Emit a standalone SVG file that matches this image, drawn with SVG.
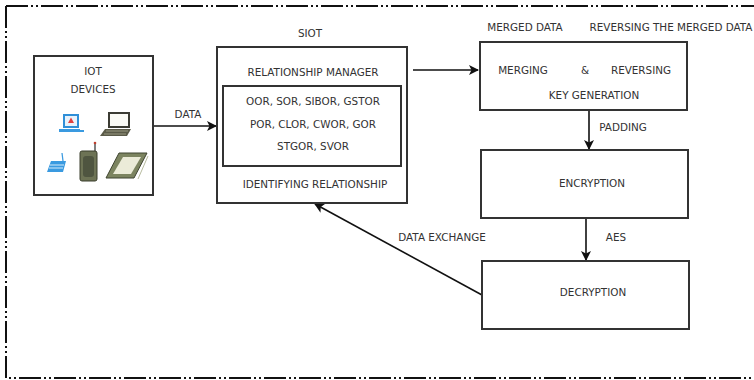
<svg xmlns="http://www.w3.org/2000/svg" width="754" height="380" viewBox="0 0 754 380">
  <defs>
    <style>
      .frame { fill: none; stroke: #111; stroke-width: 2; stroke-dasharray: 22 3 2 3 2 3; }
      .box { fill: #fff; stroke: #333; stroke-width: 2; }
      .edge { fill: none; stroke: #111; stroke-width: 1.6; }
      .t { font-family: "DejaVu Sans", Verdana, sans-serif; font-size: 10.4px; fill: #333; text-anchor: middle; dominant-baseline: central; }
    </style>
    <marker id="arrow" viewBox="0 0 10 10" refX="9" refY="5" markerWidth="10" markerHeight="10" markerUnits="userSpaceOnUse" orient="auto">
      <path d="M0,0 L10,5 L0,10 L2.5,5 Z" fill="#111"/>
    </marker>
  </defs>
  <rect width="754" height="380" fill="#fff"/>

  <!-- outer dash-dot frame -->
  <path class="frame" d="M6,6 H754 M6,6 V378 H754"/>

  <!-- connectors -->
  <g id="connectors">
    <line class="edge" x1="153" y1="126" x2="216" y2="126" marker-end="url(#arrow)"/>
    <line class="edge" x1="413" y1="70" x2="478" y2="70" marker-end="url(#arrow)"/>
    <line class="edge" x1="589" y1="110" x2="589" y2="149" marker-end="url(#arrow)"/>
    <line class="edge" x1="586" y1="218" x2="586" y2="260" marker-end="url(#arrow)"/>
    <line class="edge" x1="482" y1="295" x2="315" y2="204" marker-end="url(#arrow)"/>
    <text class="t" x="188" y="114">DATA</text>
    <text class="t" x="623" y="127">PADDING</text>
    <text class="t" x="616" y="237">AES</text>
    <text class="t" x="442" y="237">DATA EXCHANGE</text>
  </g>

  <!-- IoT devices -->
  <g id="iot-devices">
    <rect class="box" x="34" y="56" width="119" height="139"/>
    <text class="t" x="93" y="71">IOT</text>
    <text class="t" x="93" y="89">DEVICES</text>
    <!-- desktop -->
    <rect x="63" y="114" width="16" height="14" fill="#2f8fd8"/>
    <rect x="65" y="116" width="12" height="10" fill="#e8f2fb"/>
    <path d="M68,123 L71,117.5 L74,123 Z" fill="#e04040"/>
    <rect x="59" y="129" width="21" height="3" fill="#3a9ae0"/>
    <rect x="80" y="130" width="4" height="2" fill="#3a9ae0"/>
    <!-- laptop -->
    <rect x="108" y="112" width="22" height="16" fill="#3b3b33"/>
    <rect x="110" y="114" width="18" height="12" fill="#fafaf5"/>
    <path d="M105,129 H131 L127,136 H100 Z" fill="#5a5a48"/>
    <path d="M106,131 H128 M104,134 H126" stroke="#a8a890" stroke-width="0.8"/>
    <!-- router -->
    <path d="M51,161 H66 L63,172 H47 Z" fill="#3a9ae0"/>
    <path d="M50,165 H64 M49,168 H63" stroke="#d6ecfb" stroke-width="1"/>
    <line x1="63" y1="161" x2="62" y2="153" stroke="#3a9ae0" stroke-width="1.2"/>
    <!-- phone -->
    <line x1="95" y1="142" x2="95" y2="152" stroke="#555" stroke-width="1.5"/>
    <circle cx="95" cy="143" r="1.3" fill="#c04030"/>
    <rect x="80" y="151" width="17" height="30" rx="2" fill="#6d7355" stroke="#3b3f2c" stroke-width="1"/>
    <rect x="83" y="156" width="11" height="21" rx="3" fill="#4f5540"/>
    <!-- tablet -->
    <path d="M119,153 H147 L134,178 H106 Z" fill="#7c8460" stroke="#3f4430" stroke-width="1"/>
    <path d="M123,157 H141 L131,174 H113 Z" fill="#ebebd8"/>
    <line x1="148" y1="156" x2="138" y2="179" stroke="#b8bca0" stroke-width="1"/>
  </g>

  <!-- SIoT relationship manager -->
  <g id="siot">
    <text class="t" x="310" y="33">SIOT</text>
    <rect class="box" x="217" y="47" width="190" height="156"/>
    <text class="t" x="313" y="72">RELATIONSHIP MANAGER</text>
    <rect class="box" x="223" y="86" width="178" height="80"/>
    <text class="t" x="313" y="101">OOR, SOR, SIBOR, GSTOR</text>
    <text class="t" x="313" y="124">POR, CLOR, CWOR, GOR</text>
    <text class="t" x="313" y="146">STGOR, SVOR</text>
    <text class="t" x="315" y="184">IDENTIFYING RELATIONSHIP</text>
  </g>

  <!-- merging, reversing and key generation -->
  <g id="key-generation">
    <text class="t" x="525" y="27">MERGED DATA</text>
    <text class="t" x="671" y="27">REVERSING THE MERGED DATA</text>
    <rect class="box" x="480" y="42" width="207" height="68"/>
    <text class="t" x="523" y="70">MERGING</text>
    <text class="t" x="585" y="70">&amp;</text>
    <text class="t" x="641" y="70">REVERSING</text>
    <text class="t" x="594" y="95">KEY GENERATION</text>
  </g>

  <!-- encryption -->
  <g id="encryption">
    <rect class="box" x="481" y="150" width="207" height="68"/>
    <text class="t" x="592" y="183">ENCRYPTION</text>
  </g>

  <!-- decryption -->
  <g id="decryption">
    <rect class="box" x="482" y="261" width="207" height="68"/>
    <text class="t" x="593" y="292">DECRYPTION</text>
  </g>
</svg>
